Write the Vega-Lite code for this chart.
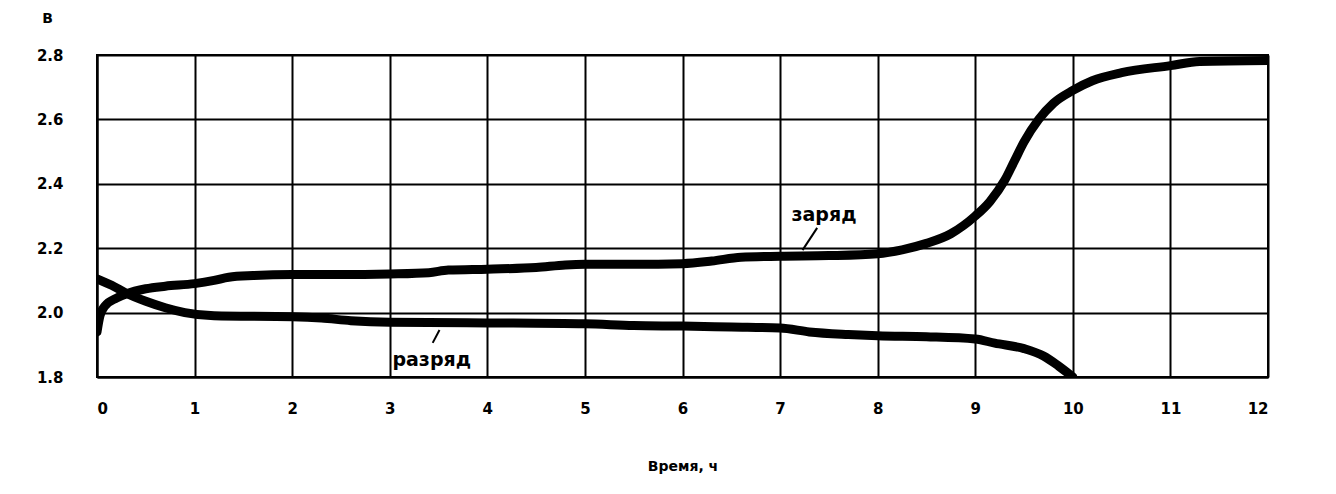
{
  "$schema": "https://vega.github.io/schema/vega-lite/v6.json",
  "width": 1171,
  "height": 322,
  "autosize": "none",
  "padding": {"left": 97, "top": 55, "right": 68, "bottom": 117},
  "background": "white",
  "config": {
    "view": {"stroke": "black", "strokeWidth": 2},
    "font": "DejaVu Sans",
    "axis": {
      "labelFont": "DejaVu Sans", "labelFontWeight": "bold", "labelFontSize": 15, "labelColor": "black",
      "titleFont": "DejaVu Sans", "titleFontWeight": "bold", "titleFontSize": 14, "titleColor": "black",
      "gridColor": "black", "gridWidth": 2, "gridOpacity": 1,
      "domainColor": "black", "domainWidth": 2, "ticks": false
    }
  },
  "datasets": {
    "curves": [
      {"t": 0, "v": 1.94, "series": "заряд"},
      {"t": 0.03, "v": 1.99, "series": "заряд"},
      {"t": 0.08, "v": 2.02, "series": "заряд"},
      {"t": 0.2, "v": 2.045, "series": "заряд"},
      {"t": 0.3, "v": 2.058, "series": "заряд"},
      {"t": 0.5, "v": 2.074, "series": "заряд"},
      {"t": 0.7, "v": 2.082, "series": "заряд"},
      {"t": 1.0, "v": 2.09, "series": "заряд"},
      {"t": 1.2, "v": 2.1, "series": "заряд"},
      {"t": 1.35, "v": 2.11, "series": "заряд"},
      {"t": 1.6, "v": 2.115, "series": "заряд"},
      {"t": 2.0, "v": 2.118, "series": "заряд"},
      {"t": 2.5, "v": 2.118, "series": "заряд"},
      {"t": 3.0, "v": 2.12, "series": "заряд"},
      {"t": 3.4, "v": 2.124, "series": "заряд"},
      {"t": 3.6, "v": 2.132, "series": "заряд"},
      {"t": 4.0, "v": 2.135, "series": "заряд"},
      {"t": 4.5, "v": 2.14, "series": "заряд"},
      {"t": 4.8, "v": 2.148, "series": "заряд"},
      {"t": 5.0, "v": 2.15, "series": "заряд"},
      {"t": 5.5, "v": 2.15, "series": "заряд"},
      {"t": 6.0, "v": 2.152, "series": "заряд"},
      {"t": 6.3, "v": 2.16, "series": "заряд"},
      {"t": 6.6, "v": 2.172, "series": "заряд"},
      {"t": 7.0, "v": 2.175, "series": "заряд"},
      {"t": 7.5, "v": 2.177, "series": "заряд"},
      {"t": 8.0, "v": 2.183, "series": "заряд"},
      {"t": 8.25, "v": 2.195, "series": "заряд"},
      {"t": 8.5, "v": 2.215, "series": "заряд"},
      {"t": 8.75, "v": 2.245, "series": "заряд"},
      {"t": 9.0, "v": 2.3, "series": "заряд"},
      {"t": 9.15, "v": 2.345, "series": "заряд"},
      {"t": 9.3, "v": 2.41, "series": "заряд"},
      {"t": 9.4, "v": 2.47, "series": "заряд"},
      {"t": 9.5, "v": 2.53, "series": "заряд"},
      {"t": 9.65, "v": 2.6, "series": "заряд"},
      {"t": 9.8, "v": 2.65, "series": "заряд"},
      {"t": 10.0, "v": 2.69, "series": "заряд"},
      {"t": 10.2, "v": 2.72, "series": "заряд"},
      {"t": 10.5, "v": 2.745, "series": "заряд"},
      {"t": 11.0, "v": 2.767, "series": "заряд"},
      {"t": 11.3, "v": 2.78, "series": "заряд"},
      {"t": 12.0, "v": 2.783, "series": "заряд"},
      {"t": 0, "v": 2.105, "series": "разряд"},
      {"t": 0.15, "v": 2.085, "series": "разряд"},
      {"t": 0.3, "v": 2.06, "series": "разряд"},
      {"t": 0.5, "v": 2.035, "series": "разряд"},
      {"t": 0.7, "v": 2.015, "series": "разряд"},
      {"t": 0.9, "v": 2.0, "series": "разряд"},
      {"t": 1.2, "v": 1.99, "series": "разряд"},
      {"t": 2.0, "v": 1.987, "series": "разряд"},
      {"t": 2.3, "v": 1.983, "series": "разряд"},
      {"t": 2.6, "v": 1.975, "series": "разряд"},
      {"t": 3.0, "v": 1.97, "series": "разряд"},
      {"t": 4.0, "v": 1.968, "series": "разряд"},
      {"t": 5.0, "v": 1.965, "series": "разряд"},
      {"t": 5.5, "v": 1.96, "series": "разряд"},
      {"t": 6.0, "v": 1.958, "series": "разряд"},
      {"t": 6.5, "v": 1.955, "series": "разряд"},
      {"t": 7.0, "v": 1.952, "series": "разряд"},
      {"t": 7.3, "v": 1.94, "series": "разряд"},
      {"t": 7.7, "v": 1.932, "series": "разряд"},
      {"t": 8.0, "v": 1.928, "series": "разряд"},
      {"t": 8.5, "v": 1.925, "series": "разряд"},
      {"t": 9.0, "v": 1.918, "series": "разряд"},
      {"t": 9.2, "v": 1.905, "series": "разряд"},
      {"t": 9.5, "v": 1.888, "series": "разряд"},
      {"t": 9.7, "v": 1.865, "series": "разряд"},
      {"t": 9.85, "v": 1.835, "series": "разряд"},
      {"t": 10.0, "v": 1.8, "series": "разряд"}
    ],
    "leaders": [
      {"t1": 7.23, "v1": 2.194, "t2": 7.38, "v2": 2.263},
      {"t1": 3.51, "v1": 1.946, "t2": 3.44, "v2": 1.906}
    ],
    "labels": [
      {"t": 7.45, "v": 2.303, "label": "заряд"},
      {"t": 3.43, "v": 1.853, "label": "разряд"}
    ]
  },
  "layer": [
    {
      "data": {"name": "curves"},
      "mark": {"type": "line", "color": "black", "strokeWidth": 9, "strokeCap": "round", "strokeJoin": "round", "interpolate": "monotone", "clip": true},
      "encoding": {
        "x": {"field": "t", "type": "quantitative", "scale": {"domain": [0, 12], "nice": false},
          "axis": {"values": [0,1,2,3,4,5,6,7,8,9,10,11,12], "grid": true, "title": "Время, ч", "labelPadding": 24, "titleY": 89, "titleBaseline": "middle", "format": "d"}},
        "y": {"field": "v", "type": "quantitative", "scale": {"domain": [1.8, 2.8], "nice": false, "zero": false},
          "axis": {"values": [1.8, 2.0, 2.2, 2.4, 2.6, 2.8], "grid": true, "format": ".1f", "title": "В", "titleAngle": 0, "titleX": -50, "titleY": -37, "titleBaseline": "middle", "titleAlign": "center", "labelPadding": 34}},
        "detail": {"field": "series", "type": "nominal"}
      }
    },
    {
      "data": {"name": "leaders"},
      "mark": {"type": "rule", "color": "black", "strokeWidth": 2},
      "encoding": {
        "x": {"field": "t1", "type": "quantitative"},
        "y": {"field": "v1", "type": "quantitative"},
        "x2": {"field": "t2"},
        "y2": {"field": "v2"}
      }
    },
    {
      "data": {"name": "labels"},
      "mark": {"type": "text", "font": "DejaVu Sans", "fontWeight": "bold", "fontSize": 19, "color": "black", "align": "center", "baseline": "middle"},
      "encoding": {
        "x": {"field": "t", "type": "quantitative"},
        "y": {"field": "v", "type": "quantitative"},
        "text": {"field": "label"}
      }
    }
  ]
}
